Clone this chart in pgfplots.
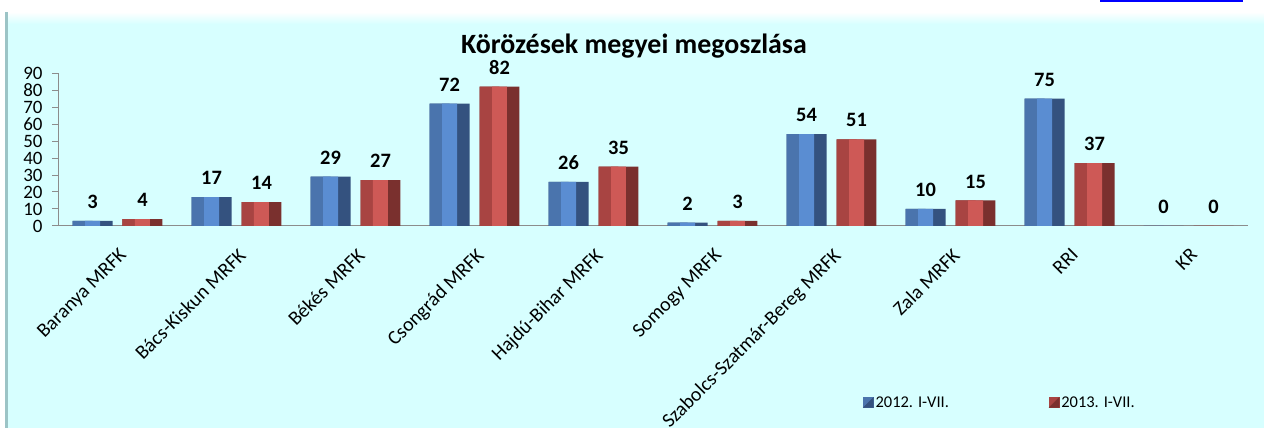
\documentclass[border=0pt]{standalone}
\usepackage{pgfplots}
\pgfplotsset{compat=1.18}
\usepackage{pgfplotstable}
\usepackage{fontspec}
\setmainfont{Carlito}
\definecolor{bg}{HTML}{D7FFFF}
\definecolor{edgegray}{HTML}{9CC4C6}
\definecolor{axisgray}{HTML}{8C8C8C}
\definecolor{blueL}{HTML}{4A74AD}
\definecolor{blueF}{HTML}{5A8DD2}
\definecolor{blueD}{HTML}{34527F}
\definecolor{redL}{HTML}{A84442}
\definecolor{redF}{HTML}{CE5956}
\definecolor{redD}{HTML}{7A302E}
\pgfplotstableread{
x a b
0 3 4
1 17 14
2 29 27
3 72 82
4 26 35
5 2 3
6 54 51
7 10 15
8 75 37
9 0 0
}\data
\begin{document}
\begin{tikzpicture}[x=1bp,y=1bp]
\fill[white] (0,0) rectangle (1264,428);
\fill[bg] (7,0) rectangle (1264,416);
\shade[top color=white, bottom color=bg] (7,404) rectangle (1264,416);
\fill[edgegray] (5,0) rectangle (8,416);
\draw[blue, line width=1.5bp] (1100,427.2) -- (1243,427.2);
\node[anchor=base, font=\bfseries\fontsize{28}{33}\selectfont] at (634,374) {Körözések megyei megoszlása};
\begin{axis}[at={(58bp,202bp)}, anchor=south west, scale only axis,
  width=1190bp, height=153bp,
  xmin=-0.5, xmax=9.5, ymin=0, ymax=90,
  ytick={0,10,...,90}, xtick={0,...,9},
  xticklabels={Baranya MRFK, Bács-Kiskun MRFK, Békés MRFK, Csongrád MRFK, Hajdú-Bihar MRFK, Somogy MRFK, Szabolcs-Szatmár-Bereg MRFK, Zala MRFK, RRI, KR},
  axis x line*=bottom, axis y line*=left,
  axis line style={draw=axisgray, line width=1bp},
  tick align=outside, major tick length=6bp,
  ytick style={draw=axisgray, line width=1bp},
  xtick style={draw=none},
  /pgf/number format/assume math mode=true,
  yticklabel style={font=\fontsize{19}{22}\selectfont, xshift=-6bp},
  xticklabel style={rotate=45, anchor=north east, inner sep=0pt, font=\fontsize{20}{24}\selectfont, xshift=-10bp, yshift=-11bp},
  clip=false,
  legend style={at={(axis description cs:0.674,-1.154)}, anchor=west, draw=none, fill=none, legend columns=2, font=\fontsize{16.5}{19}\selectfont, /tikz/every even column/.append style={column sep=98bp}},
  legend cell align=left,
]
\addplot[ybar, bar width=0.336, bar shift=-0.21, fill=blueD, draw=none, forget plot] table[x=x,y=a]{\data};
\addplot[ybar, bar width=0.168, bar shift=-0.294, fill=blueL, draw=none, forget plot] table[x=x,y=a]{\data};
\addplot[ybar, bar width=0.126, bar shift=-0.21, fill=blueF, draw=none, forget plot,
  nodes near coords, every node near coord/.append style={font=\bfseries\fontsize{20.5}{24}\selectfont, anchor=center, xshift=-25bp, yshift=19bp, text=black}] table[x=x,y=a]{\data};
\addplot[ybar, bar width=0.336, bar shift=0.21, fill=redD, draw=none, forget plot] table[x=x,y=b]{\data};
\addplot[ybar, bar width=0.168, bar shift=0.126, fill=redL, draw=none, forget plot] table[x=x,y=b]{\data};
\addplot[ybar, bar width=0.126, bar shift=0.21, fill=redF, draw=none, forget plot,
  nodes near coords, every node near coord/.append style={font=\bfseries\fontsize{20.5}{24}\selectfont, anchor=center, xshift=25bp, yshift=19bp, text=black}] table[x=x,y=b]{\data};
\addlegendimage{legend image code/.code={\fill[blueL] (0bp,-5bp) rectangle (10bp,5bp); \fill[blueD] (0bp,-5bp) -- (10bp,-5bp) -- (10bp,5bp) -- cycle;}}
\addlegendentry{2012. I-VII.}
\addlegendimage{legend image code/.code={\fill[redL] (0bp,-5bp) rectangle (10bp,5bp); \fill[redD] (0bp,-5bp) -- (10bp,-5bp) -- (10bp,5bp) -- cycle;}}
\addlegendentry{2013. I-VII.}
\end{axis}
\end{tikzpicture}
\end{document}
